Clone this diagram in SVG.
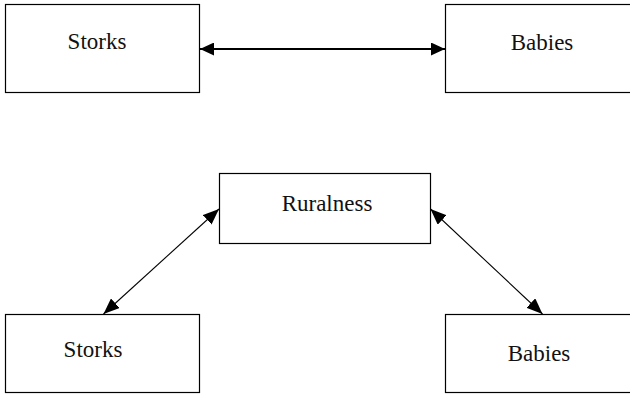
<svg xmlns="http://www.w3.org/2000/svg" width="630" height="402" viewBox="0 0 630 402">
<style>
.box{fill:#fff;stroke:#000;stroke-width:1.2}
.lbl{font-family:"Liberation Serif","Times New Roman",serif;font-size:23px;fill:#111;text-anchor:middle}
.thick{stroke:#000;stroke-width:2;fill:none}
.thin{stroke:#000;stroke-width:1.1;fill:none}
</style>
<defs>
<marker id="ah" viewBox="0 0 14 13" refX="14" refY="6.5" markerWidth="14" markerHeight="13" markerUnits="userSpaceOnUse" orient="auto-start-reverse">
<path d="M0,0 L14,6.5 L0,13 z" fill="#000"/>
</marker>
<marker id="ah2" viewBox="0 0 16 13" refX="16" refY="6.5" markerWidth="16" markerHeight="13" markerUnits="userSpaceOnUse" orient="auto-start-reverse">
<path d="M0,0 L16,6.5 L0,13 z" fill="#000"/>
</marker>
</defs>
<g id="storks-top"><rect class="box" x="5.5" y="4.5" width="194" height="88"/><text class="lbl" x="97" y="49">Storks</text></g>
<g id="babies-top"><rect class="box" x="445.5" y="4.5" width="200" height="88"/><text class="lbl" x="542" y="50">Babies</text></g>
<g id="ruralness"><rect class="box" x="219.5" y="173.5" width="211" height="70"/><text class="lbl" x="327" y="211">Ruralness</text></g>
<g id="storks-bottom"><rect class="box" x="5.5" y="314.5" width="194" height="78"/><text class="lbl" x="93" y="357">Storks</text></g>
<g id="babies-bottom"><rect class="box" x="445.5" y="314.5" width="200" height="78"/><text class="lbl" x="539" y="361">Babies</text></g>
<g id="connectors">
<line class="thick" x1="200" y1="49" x2="445" y2="49" marker-start="url(#ah)" marker-end="url(#ah)"/>
<line class="thin" x1="219" y1="209" x2="103.5" y2="314" marker-start="url(#ah2)" marker-end="url(#ah2)"/>
<line class="thin" x1="430.5" y1="209" x2="542.5" y2="314" marker-start="url(#ah2)" marker-end="url(#ah2)"/>
</g>
</svg>
